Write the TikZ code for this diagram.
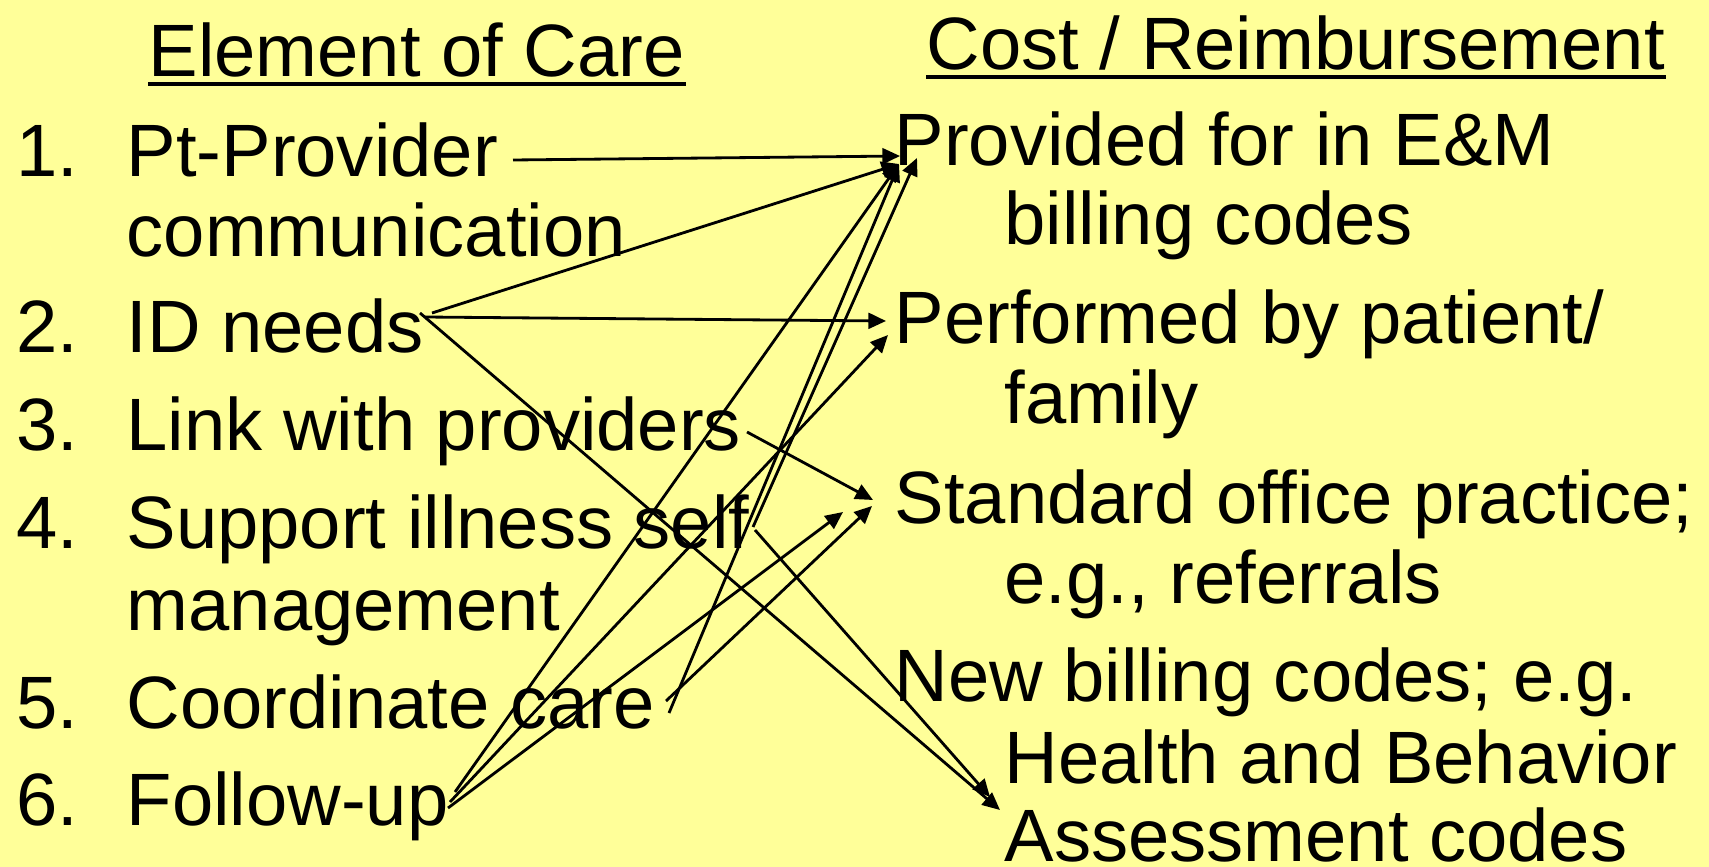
\documentclass[tikz,border=0pt]{standalone}
\usepackage{fontspec}
\setmainfont{Liberation Sans}
\usetikzlibrary{arrows.meta, calc}

\definecolor{slideyellow}{RGB}{255,255,153}

\begin{document}
\begin{tikzpicture}[x = 0.01cm, y = -0.01cm, > = {Triangle[length = 5pt, width = 4.5pt]},
	txt/.style = {anchor = base west, inner sep = 0pt, font = \fontsize{21.1}{25}\selectfont},
	link/.style = {->, line width = 0.8pt}]

	% Slide background

	\fill [slideyellow] (0, 0) rectangle (1709, 867);
	\useasboundingbox (0, 0) rectangle (1709, 867);

	% Headings

	\node [txt] (careHead) at (148, 77) {Element of Care};
	\node [txt] (costHead) at (926, 70) {Cost / Reimbursement};
	\draw [line width = 1pt] ($(careHead.base west) + (0, 7)$) -- ($(careHead.base east) + (0, 7)$);
	\draw [line width = 1pt] ($(costHead.base west) + (0, 7)$) -- ($(costHead.base east) + (0, 7)$);

	% Elements of care

	\foreach \n/\y in {1/177, 2/352, 3/450, 4/548, 5/728, 6/825}
		\node [txt] (num\n) at (16, \y) {\n.};

	\node [txt] (ptProv) at (126, 177) {Pt-Provider};
	\node [txt] (ptComm) at (126, 257) {communication};
	\node [txt] (idNeeds) at (126, 352) {ID needs};
	\node [txt] (linkProv) at (126, 450) {Link with providers};
	\node [txt] (selfMan) at (126, 548) {Support illness self};
	\node [txt] (selfMan2) at (126, 630) {management};
	\node [txt] (coordCare) at (126, 728) {Coordinate care};
	\node [txt] (followUp) at (126, 825) {Follow-up};

	% Cost / reimbursement

	\node [txt] (emCodes) at (894, 166) {Provided for in E\&M};
	\node [txt] (emCodes2) at (1004, 245) {billing codes};
	\node [txt] (byPatient) at (894, 343) {Performed by patient/};
	\node [txt] (byPatient2) at (1004, 423) {family};
	\node [txt] (office) at (894, 523) {Standard office practice;};
	\node [txt] (office2) at (1004, 603) {e.g., referrals};
	\node [txt] (newCodes) at (894, 701) {New billing codes; e.g.};
	\node [txt] (newCodes2) at (1004, 783) {Health and Behavior};
	\node [txt] (newCodes3) at (1004, 861) {Assessment codes};

	% Arrow ends

	\coordinate (ptOut) at (513, 160);
	\coordinate (idOutA) at (432, 313);
	\coordinate (idOutB) at (425, 317);
	\coordinate (idOutC) at (420, 313);
	\coordinate (linkOut) at (747, 432);
	\coordinate (selfOutA) at (753, 527);
	\coordinate (selfOutB) at (755, 530);
	\coordinate (coordOutA) at (669, 713);
	\coordinate (coordOutB) at (666, 701);
	\coordinate (followOutA) at (455, 792);
	\coordinate (followOutB) at (450, 802);
	\coordinate (followOutC) at (448, 808);

	\coordinate (emIn) at (900, 156);
	\coordinate (emInB) at (899, 164);
	\coordinate (emInC) at (917, 158);
	\coordinate (patientIn) at (886, 321);
	\coordinate (patientInB) at (888, 335);
	\coordinate (officeIn) at (873, 500);
	\coordinate (officeInB) at (872, 506);
	\coordinate (officeInC) at (843, 512);
	\coordinate (newIn) at (990, 797);
	\coordinate (newInB) at (1000, 810);

	% Arrows

	\draw [link] (ptOut) -- (emIn);
	\draw [link] (idOutA) -- (emInB);
	\draw [link] (idOutB) -- (patientIn);
	\draw [link] (idOutC) -- (newInB);
	\draw [link] (linkOut) -- (officeIn);
	\draw [link] (selfOutA) -- (emInC);
	\draw [link] (selfOutB) -- (newIn);
	\draw [link] (coordOutA) -- (emInB);
	\draw [link] (coordOutB) -- (officeInB);
	\draw [link] (followOutA) -- (emInB);
	\draw [link] (followOutB) -- (patientInB);
	\draw [link] (followOutC) -- (officeInC);

\end{tikzpicture}
\end{document}
